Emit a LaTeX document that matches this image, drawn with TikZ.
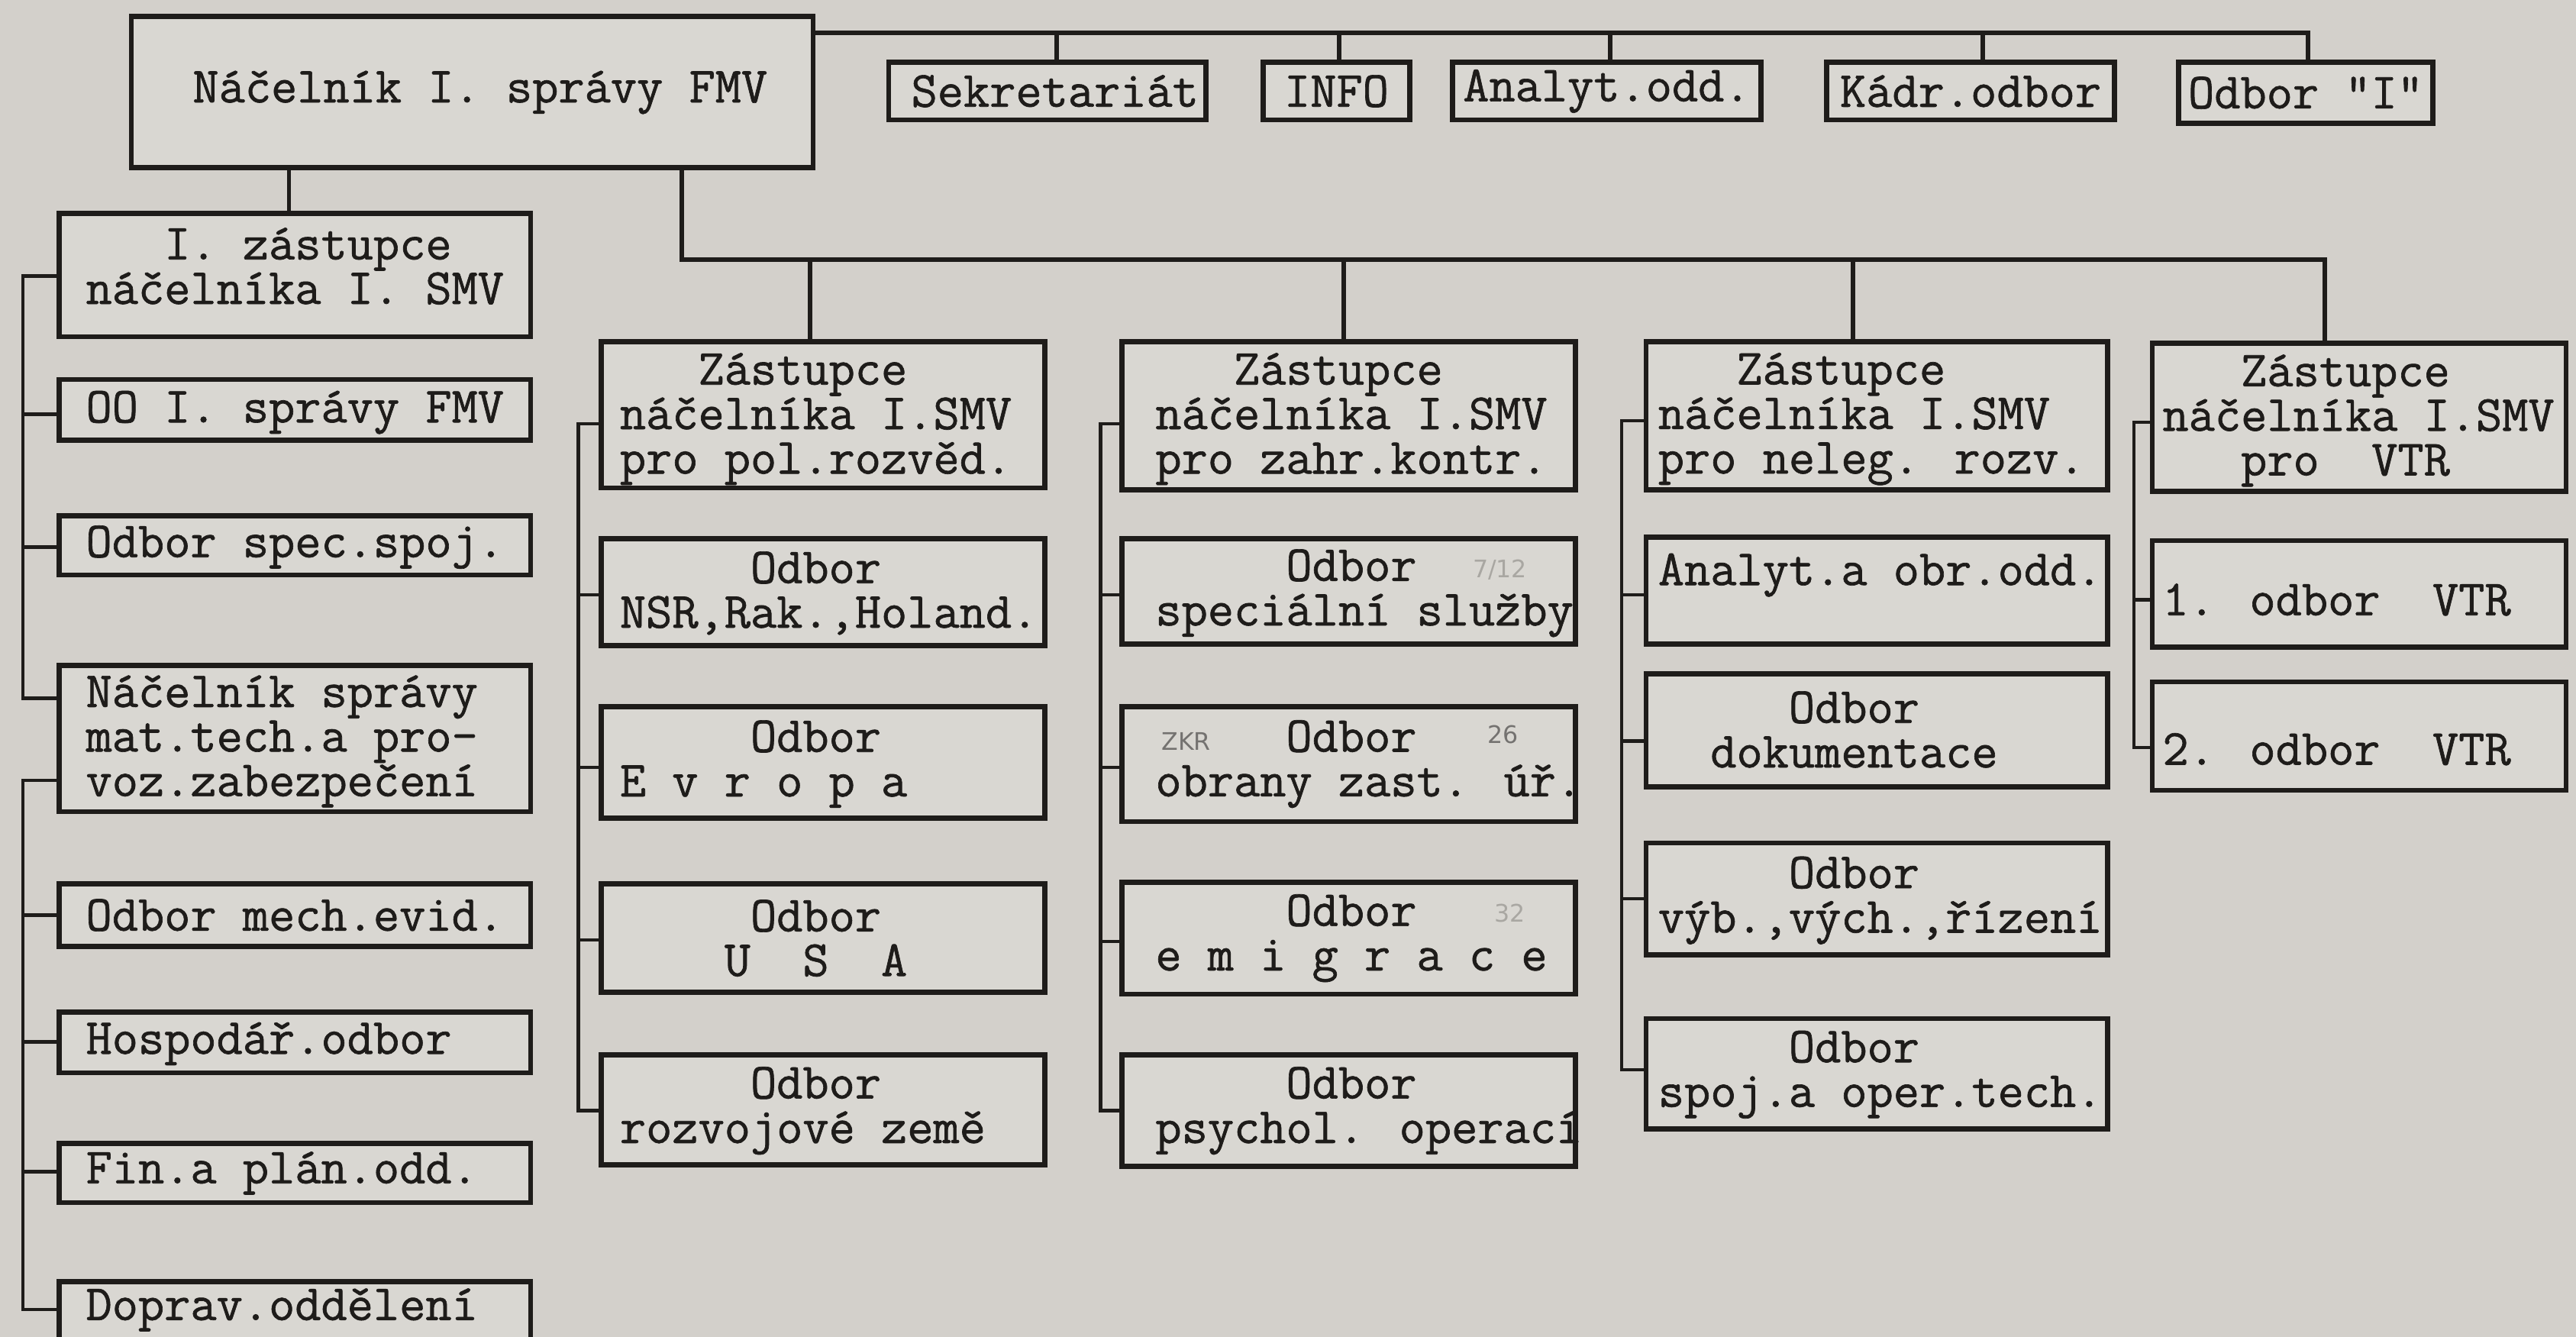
\documentclass[tikz,border=0pt]{standalone}
\usepackage{fontspec}
\newfontfamily\tw{Latin Modern Mono}[FakeBold=1.0]
\newfontfamily\hand{DejaVu Sans}
\definecolor{paper}{HTML}{D3D0CB}
\definecolor{boxfill}{HTML}{D9D7D2}
\definecolor{ink}{HTML}{1E1C1A}
\newcommand\ind[1]{\hbox to #1\fontcharwd\font`\M{}}
\newcommand\bx[5]{\node[box, minimum width={(#4-#2)*0.02152cm}, minimum height={(#5-#3)*0.02152cm}] (#1) at ({(#2+#4)/2},{(#3+#5)/2}) {};}
\newcommand\tx[4]{\node[txt] (#1) at (#2,#3) {#4};}
\begin{document}
\begin{tikzpicture}[x=0.02152cm, y=-0.02152cm,
  box/.style={draw=ink, line width=1.9pt, fill=boxfill, inner sep=0pt},
  txt/.style={anchor=west, align=left, inner sep=0pt, text=ink, font=\tw\fontsize{18.9pt}{16.6pt}\selectfont\bfseries},
  conn/.style={draw=ink, line width=1.3pt},
  bus/.style={draw=ink, line width=1.7pt},
  handw/.style={inner sep=0pt, text=black!45!paper, font=\hand\fontsize{9pt}{9pt}\selectfont},
  handf/.style={inner sep=0pt, text=black!20!paper, font=\hand\fontsize{9pt}{9pt}\selectfont}]
\fill[paper] (0,0) rectangle (1568,813.6);
\useasboundingbox (0,0) rectangle (1568,813.6);

% ---------- boxes ----------
\bx{M}{80}{10}{495}{102}
\bx{S}{541}{38}{734}{73}
\bx{I}{769}{38}{858}{73}
\bx{A}{884}{38}{1072}{73}
\bx{K}{1112}{38}{1287}{73}
\bx{O}{1326}{38}{1481}{75}

\bx{Z1}{36}{130}{323}{205}
\bx{L1}{36}{231}{323}{268}
\bx{L2}{36}{314}{323}{350}
\bx{L3}{36}{405}{323}{494}
\bx{L4}{36}{538}{323}{576}
\bx{L5}{36}{616}{323}{653}
\bx{L6}{36}{696}{323}{732}
\bx{L7}{36}{780}{323}{818}

\bx{C1a}{366}{208}{636}{297}
\bx{C1b}{366}{328}{636}{393}
\bx{C1c}{366}{430}{636}{498}
\bx{C1d}{366}{538}{636}{604}
\bx{C1e}{366}{642}{636}{709}

\bx{C2a}{683}{208}{959}{298}
\bx{C2b}{683}{328}{959}{392}
\bx{C2c}{683}{430}{959}{500}
\bx{C2d}{683}{537}{959}{605}
\bx{C2e}{683}{642}{959}{710}

\bx{C3a}{1002}{208}{1283}{298}
\bx{C3b}{1002}{327}{1283}{392}
\bx{C3c}{1002}{410}{1283}{479}
\bx{C3d}{1002}{513}{1283}{581}
\bx{C3e}{1002}{620}{1283}{687}

\bx{C4a}{1310}{209}{1562}{299}
\bx{C4b}{1310}{329}{1562}{394}
\bx{C4c}{1310}{415}{1562}{481}

% ---------- texts ----------
\tx{Mt}{117}{56}{Náčelník I. správy FMV}
\node[txt, anchor=center] (St) at ([xshift=0.1cm]S.center) {Sekretariát};
\node[txt, anchor=center] (It) at (I.center) {INFO};
\node[txt, anchor=center] (At) at (A.center) {Analyt.odd.};
\node[txt, anchor=center] (Kt) at (K.center) {Kádr.odbor};
\node[txt, anchor=center] (Ot) at (O.center) {Odbor "I"};

\tx{Z1t}{52}{162}{\ind{3}I. zástupce\\náčelníka I. SMV}
\tx{L1t}{52}{251}{OO I. správy FMV}
\tx{L2t}{52}{333}{Odbor spec.spoj.}
\tx{L3t}{52}{451}{Náčelník správy\\mat.tech.a pro-\\voz.zabezpečení}
\tx{L4t}{52}{557}{Odbor mech.evid.}
\tx{L5t}{52}{635}{Hospodář.odbor}
\tx{L6t}{52}{714}{Fin.a plán.odd.}
\tx{L7t}{52}{797}{Doprav.oddělení}

\tx{C1at}{377}{255}{\ind{3}Zástupce\\náčelníka I.SMV\\pro pol.rozvěd.}
\tx{C1bt}{377}{361}{\ind{5}Odbor\\NSR,Rak.,Holand.}
\tx{C1ct}{377}{465}{\ind{5}Odbor\\E v r o p a}
\tx{C1dt}{377}{571}{\ind{5}Odbor\\\ind{4}U\ind{2}S\ind{2}A}
\tx{C1et}{377}{676}{\ind{5}Odbor\\rozvojové země}

\tx{C2at}{703}{255}{\ind{3}Zástupce\\náčelníka I.SMV\\pro zahr.kontr.}
\tx{C2bt}{703}{361}{\ind{5}Odbor\\speciální služby}
\tx{C2ct}{703}{465}{\ind{5}Odbor\\obrany zast. úř.}
\tx{C2dt}{703}{571}{\ind{5}Odbor\\e m i g r a c e}
\tx{C2et}{703}{676}{\ind{5}Odbor\\psychol. operací}

\tx{C3at}{1009}{255}{\ind{3}Zástupce\\náčelníka I.SMV\\pro neleg. rozv.}
\tx{C3bt}{1009}{350}{Analyt.a obr.odd.}
\tx{C3ct}{1009}{444}{\ind{5}Odbor\\\ind{2}dokumentace}
\tx{C3dt}{1009}{548}{\ind{5}Odbor\\výb.,vých.,řízení}
\tx{C3et}{1009}{654}{\ind{5}Odbor\\spoj.a oper.tech.}

\tx{C4at}{1316}{256}{\ind{3}Zástupce\\náčelníka I.SMV\\\ind{3}pro\ind{2}VTR}
\tx{C4bt}{1316}{365}{1. odbor\ind{2}VTR}
\tx{C4ct}{1316}{456}{2. odbor\ind{2}VTR}

% handwritten marks
\node[handw] (h1) at (722,451) {ZKR};
\node[handw] (h2) at (915,447) {26};
\node[handf] (h3) at (919,556) {32};
\node[handf] (h4) at (913,347) {7/12};

% ---------- connectors ----------
% top staff bus
\draw[bus] (M.east |- 0,20) -| (O.north -| 1405,0);
\draw[bus] (643,20) -- (S.north -| 643,0);
\draw[bus] (815,20) -- (I.north -| 815,0);
\draw[bus] (980,20) -- (A.north -| 980,0);
\draw[bus] (1207,20) -- (K.north -| 1207,0);

% to first deputy
\draw[conn] (M.south -| 176,0) -- (Z1.north -| 176,0);

% deputies bus
\draw[bus] (M.south -| 415,0) |- (1415,158) -- (C4a.north -| 1415,0);
\draw[bus] (493,158) -- (C1a.north -| 493,0);
\draw[bus] (818,158) -- (C2a.north -| 818,0);
\draw[bus] (1128,158) -- (C3a.north -| 1128,0);

% left column
\draw[conn] (Z1.west |- 0,168) -- (14,168) |- (L3.west |- 0,425);
\draw[conn] (14,252) -- (L1.west |- 0,252);
\draw[conn] (14,333) -- (L2.west |- 0,333);
\draw[conn] (L3.west |- 0,475) -- (14,475) |- (L7.west |- 0,797);
\draw[conn] (14,557) -- (L4.west |- 0,557);
\draw[conn] (14,634) -- (L5.west |- 0,634);
\draw[conn] (14,713) -- (L6.west |- 0,713);

% column 1
\draw[conn] (C1a.west |- 0,258) -- (352,258) |- (C1e.west |- 0,676);
\draw[conn] (352,362) -- (C1b.west |- 0,362);
\draw[conn] (352,467) -- (C1c.west |- 0,467);
\draw[conn] (352,572) -- (C1d.west |- 0,572);

% column 2
\draw[conn] (C2a.west |- 0,258) -- (670,258) |- (C2e.west |- 0,676);
\draw[conn] (670,362) -- (C2b.west |- 0,362);
\draw[conn] (670,467) -- (C2c.west |- 0,467);
\draw[conn] (670,573) -- (C2d.west |- 0,573);

% column 3
\draw[conn] (C3a.west |- 0,256) -- (987,256) |- (C3e.west |- 0,651);
\draw[conn] (987,362) -- (C3b.west |- 0,362);
\draw[conn] (987,451) -- (C3c.west |- 0,451);
\draw[conn] (987,547) -- (C3d.west |- 0,547);

% column 4
\draw[conn] (C4a.west |- 0,257) -- (1299,257) |- (C4c.west |- 0,455);
\draw[conn] (1299,365) -- (C4b.west |- 0,365);
\end{tikzpicture}
\end{document}
